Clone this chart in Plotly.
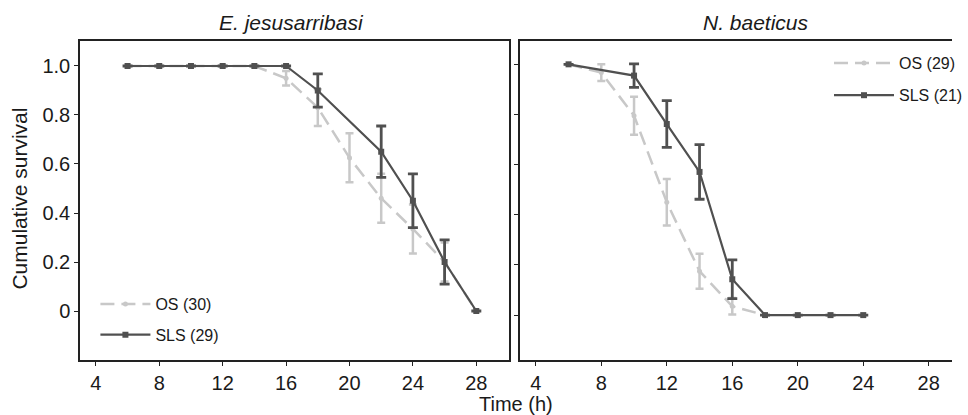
import plotly.graph_objects as go

# ---------------- data ----------------
left_os_x = [6, 8, 10, 12, 14, 16, 18, 20, 22, 24, 26, 28]
left_os_y = [1.0, 1.0, 1.0, 1.0, 1.0, 0.95, 0.83, 0.625, 0.46, 0.335, 0.2, 0.0]
left_os_err = [None, None, None, None, None, 0.03, 0.075, 0.1, 0.1, 0.1, 0.08, None]

left_sls_x = [6, 8, 10, 12, 14, 16, 18, 22, 24, 26, 28]
left_sls_y = [1.0, 1.0, 1.0, 1.0, 1.0, 1.0, 0.9, 0.65, 0.45, 0.2, 0.0]
left_sls_err = [None, None, None, None, None, None, 0.068, 0.105, 0.11, 0.09, None]

right_os_x = [6, 8, 10, 12, 14, 16, 18]
right_os_y = [1.0, 0.967, 0.795, 0.45, 0.175, 0.035, 0.0]
right_os_err = [None, 0.033, 0.076, 0.093, 0.07, 0.033, None]

right_sls_x = [6, 10, 12, 14, 16, 18, 20, 22, 24]
right_sls_y = [1.0, 0.955, 0.762, 0.571, 0.143, 0.0, 0.0, 0.0, 0.0]
right_sls_err = [None, 0.047, 0.093, 0.109, 0.077, None, None, None, None]

left_names = ["OS (30)", "SLS (29)"]
right_names = ["OS (29)", "SLS (21)"]
panel_titles = ["E. jesusarribasi", "N. baeticus"]
x_ticks = [4, 8, 12, 16, 20, 24, 28]
y_ticks = [0, 0.2, 0.4, 0.6, 0.8, 1.0]
y_ticklabels = ["0", "0.2", "0.4", "0.6", "0.8", "1.0"]

# ---------------- style ----------------
FONT = "Liberation Sans, Arial, sans-serif"
TXT = "#1a1a1a"
OS_C = "#c8c8c8"
SLS_C = "#505050"
AX_C = "#222222"

fig = go.Figure()


def os_trace(x, y, err, name, xa, ya, legend):
    return go.Scatter(
        x=x, y=y, name=name, xaxis=xa, yaxis=ya, legend=legend,
        legendgroup=name,
        mode="lines+markers",
        line=dict(color=OS_C, width=2.5, dash="14px,7px"),
        marker=dict(color=OS_C, size=5, symbol="circle"),
        error_y=dict(type="data", array=err, visible=True, color=OS_C,
                     thickness=2.5, width=4),
    )


def sls_trace(x, y, err, name, xa, ya, legend):
    return go.Scatter(
        x=x, y=y, name=name, xaxis=xa, yaxis=ya, legend=legend,
        legendgroup=name,
        mode="lines+markers",
        line=dict(color=SLS_C, width=2.2),
        marker=dict(color=SLS_C, size=6, symbol="square"),
        error_y=dict(type="data", array=err, visible=True, color=SLS_C,
                     thickness=2.8, width=5),
    )


fig.add_trace(os_trace(left_os_x, left_os_y, left_os_err, left_names[0], "x", "y", "legend"))
fig.add_trace(sls_trace(left_sls_x, left_sls_y, left_sls_err, left_names[1], "x", "y", "legend"))
fig.add_trace(os_trace(right_os_x, right_os_y, right_os_err, right_names[0], "x2", "y2", "legend2"))
fig.add_trace(sls_trace(right_sls_x, right_sls_y, right_sls_err, right_names[1], "x2", "y2", "legend2"))

W, H = 968, 415
ML, MR, MT, MB = 80, 0, 41, 55
PW = W - ML - MR
PH = H - MT - MB


def px_x(p):
    return (p - ML) / PW


def px_y(p):
    return (H - MB - p) / PH


axis_common = dict(
    showline=True, linecolor=AX_C, linewidth=1.5,
    ticks="outside", ticklen=4, tickwidth=1.3, tickcolor=AX_C,
    showgrid=False, zeroline=False,
    tickfont=dict(family=FONT, size=20, color=TXT),
)

fig.update_layout(
    width=W, height=H, autosize=False,
    margin=dict(l=ML, r=MR, t=MT, b=MB),
    paper_bgcolor="white", plot_bgcolor="white",
    font=dict(family=FONT, color=TXT),
    xaxis=dict(domain=[0, px_x(517)], range=[3.0, 30.07], tickvals=x_ticks,
               anchor="y", mirror=True, **axis_common),
    yaxis=dict(domain=[0, 1], range=[-0.2, 1.102], tickvals=y_ticks,
               ticktext=y_ticklabels, anchor="x", mirror=True, **axis_common),
    xaxis2=dict(domain=[px_x(528), 1], range=[3.03, 29.42], tickvals=x_ticks,
                anchor="y2", mirror=True, **axis_common),
    yaxis2=dict(domain=[0, 1], range=[-0.179, 1.093], tickvals=y_ticks,
                showticklabels=False, anchor="x2", mirror=False, **axis_common),
    legend=dict(x=px_x(95.7), y=px_y(287), xanchor="left", yanchor="top",
                bgcolor="rgba(0,0,0,0)", itemwidth=50, tracegroupgap=7,
                font=dict(family=FONT, size=16, color=TXT)),
    legend2=dict(x=px_x(843), y=px_y(46), xanchor="left", yanchor="top",
                 bgcolor="rgba(0,0,0,0)", itemwidth=60, tracegroupgap=8.5,
                 font=dict(family=FONT, size=16, color=TXT)),
    annotations=[
        dict(text=f"<i>{panel_titles[0]}</i>", x=px_x(295), y=px_y(23),
             xref="paper", yref="paper", showarrow=False, xanchor="center",
             yanchor="middle", font=dict(family=FONT, size=21, color=TXT)),
        dict(text=f"<i>{panel_titles[1]}</i>", x=px_x(768), y=px_y(23),
             xref="paper", yref="paper", showarrow=False, xanchor="center",
             yanchor="middle", font=dict(family=FONT, size=21, color=TXT)),
        dict(text="Time (h)", x=px_x(524), y=px_y(404),
             xref="paper", yref="paper", showarrow=False, xanchor="center",
             yanchor="middle", font=dict(family=FONT, size=20, color=TXT)),
        dict(text="Cumulative survival", x=px_x(18), y=px_y(198.5), textangle=-90,
             xref="paper", yref="paper", showarrow=False, xanchor="center",
             yanchor="middle", font=dict(family=FONT, size=21, color=TXT)),
    ],
)

post = (
    "document.documentElement.style.overflow='hidden';"
    "document.body.style.margin='0';"
    "document.body.style.overflow='hidden';"
    "var gd=document.getElementById('{plot_id}');"
    "Plotly.relayout(gd,{width:968,height:415});"
)

fig.write_html("out.html", post_script=post,
               config={"displayModeBar": False, "responsive": False})
